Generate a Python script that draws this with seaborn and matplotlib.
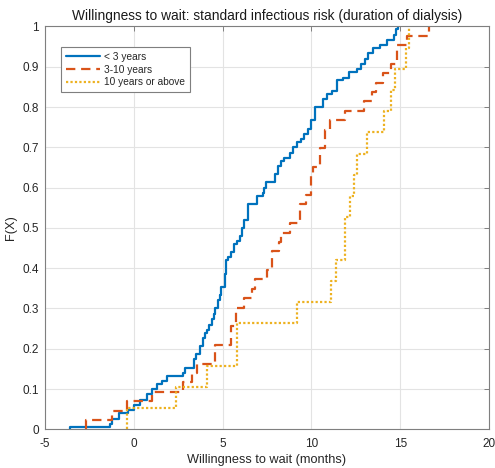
import numpy as np
import pandas as pd
import matplotlib
matplotlib.use("Agg")
import matplotlib.pyplot as plt
import seaborn as sns

# Waiting times (months) reported by each group, with how many respondents gave each value
blue_wait = [-3.58, -1.33, -1.2, -0.85, -0.3, 0.0, 0.35, 0.73, 1.01, 1.29, 1.57, 1.85,
             2.79, 2.9, 3.4, 3.5, 3.72, 3.91, 4.0, 4.1, 4.25, 4.4, 4.5, 4.6, 4.75, 4.85,
             4.94, 5.13, 5.2, 5.31, 5.5, 5.65, 5.8, 6.0, 6.1, 6.2, 6.44, 6.95, 7.27, 7.35,
             7.47, 7.94, 8.1, 8.3, 8.45, 8.8, 8.95, 9.2, 9.4, 9.6, 9.8, 10.0, 10.2, 10.65,
             10.9, 11.15, 11.45, 11.75, 12.1, 12.55, 12.8, 13.0, 13.2, 13.45, 13.85, 14.25,
             14.65, 14.75, 14.87]
blue_count = [1, 1, 2, 2, 1, 2, 2, 2, 2, 2, 1, 2,
              1, 2, 3, 2, 3, 3, 2, 1, 2, 2, 2, 2, 3, 2,
              3, 5, 5, 1, 2, 3, 1, 2, 3, 3, 6, 3, 1, 2,
              2, 3, 3, 2, 1, 2, 2, 2, 1, 2, 2, 3, 5, 3,
              2, 1, 4, 1, 2, 1, 2, 2, 2, 2, 1, 2,
              2, 2, 1]

orange_wait = [-2.68, -1.24, -0.39, 1.05, 2.75, 3.26, 3.56, 4.57, 5.45, 5.78, 6.2, 6.63,
               6.85, 7.5, 7.77, 8.16, 8.31, 8.8, 9.38, 9.7, 9.96, 10.1, 10.47, 10.75,
               11.03, 11.9, 12.94, 13.4, 13.65, 14.02, 14.5, 14.82, 15.4, 16.6]
orange_count = [1, 1, 1, 1, 1, 1, 1, 2, 2, 2, 1, 1,
                1, 1, 2, 1, 1, 1, 2, 1, 2, 1, 2, 2,
                1, 1, 1, 1, 1, 1, 1, 2, 1, 1]

yellow_wait = [-0.35, 2.36, 4.1, 5.8, 9.16, 11.08, 11.37, 11.87, 12.19, 12.4, 12.56,
               13.12, 14.08, 14.5, 14.7, 15.33, 15.48]
yellow_count = [1, 1, 1, 2, 1, 1, 1, 2, 1, 1, 1,
                1, 1, 1, 1, 1, 1]

groups = ["< 3 years", "3-10 years", "10 years or above"]
colors = ["#0072BD", "#D95319", "#EDB120"]
x_ticks = [-5, 0, 5, 10, 15, 20]
y_ticks = [0, 0.1, 0.2, 0.3, 0.4, 0.5, 0.6, 0.7, 0.8, 0.9, 1.0]
y_tick_labels = ["0", "0.1", "0.2", "0.3", "0.4", "0.5", "0.6", "0.7", "0.8", "0.9", "1"]


def ecdf_frame(values, counts, name):
    """Empirical CDF as stair points, starting from zero at the smallest value."""
    values = np.asarray(values, dtype=float)
    counts = np.asarray(counts, dtype=float)
    F = np.cumsum(counts) / counts.sum()
    xs = np.r_[values[0], values]
    ys = np.r_[0.0, F]
    return pd.DataFrame({"wait": xs, "F": ys, "group": name})


df = pd.concat([
    ecdf_frame(blue_wait, blue_count, groups[0]),
    ecdf_frame(orange_wait, orange_count, groups[1]),
    ecdf_frame(yellow_wait, yellow_count, groups[2]),
], ignore_index=True)

sns.set_style("whitegrid", {
    "grid.color": "#e3e3e3",
    "axes.edgecolor": "#7f7f7f",
    "xtick.direction": "in",
    "ytick.direction": "in",
})
plt.rcParams["font.family"] = ["Liberation Sans", "DejaVu Sans"]
plt.rcParams["axes.unicode_minus"] = False

fig = plt.figure(figsize=(4.95, 4.68), dpi=100)
ax = fig.add_axes([0.0903, 0.0827, 0.8982, 0.8607])

sns.lineplot(
    data=df, x="wait", y="F", hue="group", style="group",
    hue_order=groups, style_order=groups,
    palette=dict(zip(groups, colors)),
    dashes={groups[0]: "", groups[1]: (4.2, 2.6), groups[2]: (1.0, 1.0)},
    estimator=None, sort=False, drawstyle="steps-post",
    linewidth=1.6, legend=False, ax=ax,
)

ax.set_xlim(-5, 20)
ax.set_ylim(0, 1)
ax.set_xticks(x_ticks)
ax.set_yticks(y_ticks)
ax.set_yticklabels(y_tick_labels)
ax.grid(True, color="#e3e3e3", linewidth=0.8)
for s in ax.spines.values():
    s.set_visible(True)
    s.set_color("#7f7f7f")
    s.set_linewidth(0.8)
ax.tick_params(axis="both", which="both", direction="in", length=3.5, width=0.7,
               color="#7f7f7f", labelsize=8.5, labelcolor="#262626",
               top=True, right=True)
ax.tick_params(axis="x", pad=6)
ax.tick_params(axis="y", pad=4)

ax.set_title("Willingness to wait: standard infectious risk (duration of dialysis)",
             fontsize=9.9, color="#1a1a1a", pad=5)
ax.set_xlabel("Willingness to wait (months)", fontsize=9.2, color="#262626", labelpad=3)
ax.set_ylabel("F(X)", fontsize=9.2, color="#262626", labelpad=4)

leg = ax.legend(handles=ax.lines[:3], labels=groups, loc="upper left",
                bbox_to_anchor=(0.037, 0.948), fontsize=7.3, frameon=True,
                fancybox=False, edgecolor="#7f7f7f", framealpha=1.0,
                handlelength=3.4, handletextpad=0.4, borderpad=0.45,
                labelspacing=0.25, borderaxespad=0)
leg.get_frame().set_linewidth(0.8)

fig.savefig("out.png", dpi=100)
